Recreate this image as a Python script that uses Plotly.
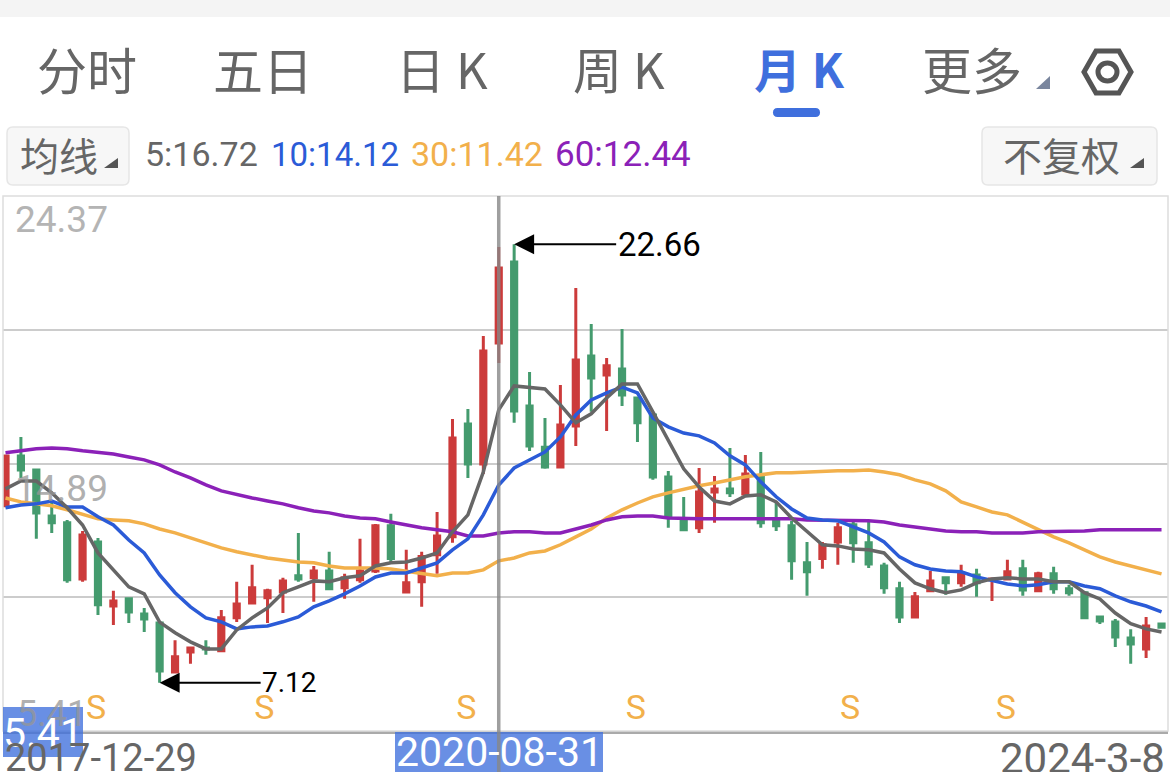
# monthly K-line screen: candles, moving averages and the app toolbar
import plotly.graph_objects as go

W, H = 1170, 772

# monthly candles, 2017-12 .. 2024-03
open_ = [13.39, 15.16, 14.66, 13.03, 12.79, 10.80, 12.11, 9.84, 10.10, 9.56,
         9.24, 7.50, 8.21, 8.35, 8.25, 9.42, 9.95, 10.13, 10.34, 10.91,
         10.84, 11.08, 10.49, 10.77, 11.08, 12.68, 10.34, 10.70, 11.66, 12.29,
         16.29, 14.87, 19.16, 22.03, 16.93, 15.47, 14.77, 16.22, 18.70, 18.03,
         18.24, 17.21, 16.61, 14.41, 12.86, 12.61, 13.88, 13.99, 13.81, 14.45,
         12.86, 12.68, 11.37, 11.52, 12.11, 12.72, 12.08, 11.26, 10.45, 9.45,
         10.38, 10.84, 10.66, 10.94, 10.77, 10.80, 11.16, 10.38, 10.98, 10.45,
         10.31, 9.45, 9.27, 8.71, 8.32, 9.20]
high = [15.19, 15.83, 14.66, 13.60, 12.89, 12.50, 12.25, 10.38, 10.10, 9.77,
        9.24, 8.63, 8.35, 8.63, 9.70, 10.70, 11.30, 10.45, 10.84, 12.43,
        11.26, 11.76, 10.98, 12.22, 12.75, 13.11, 11.83, 11.76, 13.17, 16.47,
        16.82, 19.41, 22.56, 22.66, 18.13, 16.50, 17.67, 21.11, 19.83, 18.63,
        19.66, 17.21, 16.61, 14.62, 13.70, 14.73, 14.45, 15.44, 15.19, 15.30,
        13.50, 12.86, 12.11, 12.11, 12.79, 12.86, 12.82, 11.37, 10.70, 10.34,
        11.08, 10.87, 11.30, 11.16, 10.80, 11.48, 11.48, 11.05, 11.23, 10.59,
        10.31, 9.45, 9.38, 9.02, 9.45, 9.20]
low = [13.39, 14.38, 12.22, 12.43, 10.66, 10.70, 9.52, 9.17, 9.24, 8.92,
       7.12, 7.50, 7.79, 8.11, 8.25, 9.27, 9.91, 9.24, 9.59, 10.70,
       9.99, 10.45, 10.10, 10.66, 11.01, 11.37, 10.34, 9.81, 10.98, 12.08,
       14.38, 14.52, 18.45, 16.33, 15.33, 14.70, 14.77, 15.51, 16.72, 16.04,
       16.93, 15.65, 14.31, 12.61, 12.54, 12.43, 12.79, 13.70, 13.81, 12.61,
       12.50, 10.77, 10.20, 11.16, 11.30, 11.37, 11.19, 10.27, 9.24, 9.42,
       10.34, 10.24, 10.52, 10.17, 10.02, 10.80, 10.20, 10.34, 10.27, 10.20,
       9.38, 9.20, 8.39, 7.79, 8.00, 9.06]
close = [15.16, 14.66, 13.14, 12.79, 10.77, 12.36, 9.88, 10.02, 9.63, 9.38,
         7.54, 8.04, 8.35, 8.32, 9.42, 9.91, 10.49, 10.38, 10.73, 10.80,
         11.08, 10.45, 10.84, 11.08, 12.68, 11.52, 10.66, 11.59, 12.32, 15.79,
         14.87, 18.88, 21.82, 16.75, 15.51, 14.77, 16.25, 18.56, 17.92, 18.35,
         17.32, 16.33, 14.41, 13.03, 12.54, 13.88, 13.99, 13.85, 14.52, 12.79,
         12.68, 11.44, 11.05, 12.01, 12.61, 12.08, 11.33, 10.49, 9.45, 10.17,
         10.73, 10.66, 10.98, 10.66, 10.80, 11.05, 10.41, 10.98, 10.45, 10.31,
         9.42, 9.31, 8.74, 8.49, 9.13, 9.09]

ma5 = [13.99, 14.27, 14.27, 13.85, 13.32, 12.71, 11.72, 11.12, 10.52, 10.27,
       9.27, 8.89, 8.57, 8.32, 8.32, 8.99, 9.42, 9.77, 10.31, 10.52,
       10.73, 10.70, 10.84, 10.91, 11.26, 11.37, 11.40, 11.54, 11.72, 12.47,
       13.07, 14.59, 16.79, 17.64, 17.57, 17.53, 16.97, 16.33, 16.65, 17.21,
       17.71, 17.71, 16.72, 15.73, 14.70, 14.06, 13.56, 13.46, 13.74, 13.78,
       13.53, 12.96, 12.50, 12.01, 11.97, 11.86, 11.83, 11.72, 11.15, 10.66,
       10.45, 10.31, 10.41, 10.66, 10.80, 10.84, 10.80, 10.80, 10.70, 10.70,
       10.31, 10.09, 9.59, 9.21, 9.03, 8.92]
ma10 = [13.32, 13.42, 13.46, 13.56, 13.35, 13.35, 13.00, 12.71, 12.18, 11.72,
        10.94, 10.31, 9.81, 9.42, 9.28, 9.03, 9.10, 9.13, 9.28, 9.45,
        9.81, 10.02, 10.27, 10.55, 10.87, 11.01, 11.01, 11.19, 11.37, 11.83,
        12.22, 13.07, 14.13, 14.73, 15.02, 15.30, 15.83, 16.61, 17.14, 17.39,
        17.60, 17.39, 16.50, 16.19, 15.97, 15.87, 15.62, 15.16, 14.84, 14.24,
        13.71, 13.28, 12.96, 12.89, 12.86, 12.64, 12.43, 12.11, 11.58, 11.30,
        11.15, 11.08, 11.05, 10.87, 10.73, 10.62, 10.55, 10.59, 10.70, 10.70,
        10.55, 10.45, 10.20, 9.99, 9.84, 9.63]
ma30 = [13.67, 13.53, 13.46, 13.39, 13.25, 13.10, 12.93, 12.89, 12.86, 12.75,
        12.57, 12.43, 12.25, 12.08, 11.90, 11.76, 11.65, 11.54, 11.47, 11.40,
        11.37, 11.26, 11.19, 11.19, 11.19, 11.15, 11.08, 11.01, 10.91, 11.01,
        11.01, 11.12, 11.44, 11.54, 11.72, 11.79, 12.01, 12.29, 12.57, 12.96,
        13.25, 13.49, 13.71, 13.85, 13.99, 14.10, 14.20, 14.31, 14.42, 14.49,
        14.56, 14.56, 14.59, 14.63, 14.63, 14.63, 14.66, 14.59, 14.49, 14.31,
        14.17, 13.92, 13.53, 13.35, 13.17, 13.07, 12.82, 12.57, 12.29, 12.08,
        11.83, 11.58, 11.40, 11.26, 11.15, 10.98]
ma60 = [15.27, 15.34, 15.41, 15.44, 15.41, 15.34, 15.27, 15.23, 15.12, 15.02,
        14.84, 14.59, 14.38, 14.13, 13.92, 13.78, 13.67, 13.56, 13.46, 13.32,
        13.21, 13.14, 13.03, 12.96, 12.93, 12.82, 12.71, 12.61, 12.54, 12.47,
        12.32, 12.32, 12.43, 12.47, 12.47, 12.43, 12.43, 12.57, 12.71, 12.89,
        13.00, 13.03, 13.03, 12.96, 12.93, 12.93, 12.93, 12.93, 12.96, 12.96,
        12.93, 12.93, 12.89, 12.89, 12.89, 12.89, 12.86, 12.82, 12.71, 12.64,
        12.57, 12.50, 12.47, 12.47, 12.43, 12.43, 12.43, 12.47, 12.47, 12.50,
        12.50, 12.54, 12.54, 12.54, 12.54, 12.54]

months = list(range(len(close)))

# "S" flags along the bottom of the chart
s_months = [5.87, 16.8, 29.9, 40.9, 54.8, 64.9]
s_price = [6.12] * len(s_months)

y_ticks = [5.41, 10.15, 14.89, 19.63, 24.37]
high_label, low_label = 22.66, 7.12
cross_month = 32

RED, GREEN = "#CC3B3B", "#449B6E"
GRAY, BLUE, ORANGE, PURPLE = "#666666", "#2B5BD7", "#F2B04B", "#8B21B8"
TAB_BLUE = "#3F6FDD"
CJK = "Noto Sans CJK SC"
NUM = "Roboto"


def px(x):
    return x / W


def py(y):
    return 1 - y / H


def poly(points, **kw):
    d = "M" + " L".join(f"{px(x):.5f},{py(y):.5f}" for x, y in points) + " Z"
    return dict(type="path", xref="paper", yref="paper", path=d, **kw)


def round_box(x0, y0, x1, y1, r, **kw):
    pts = [("M", x0 + r, y0), ("L", x1 - r, y0), ("Q", x1, y0, x1, y0 + r),
           ("L", x1, y1 - r), ("Q", x1, y1, x1 - r, y1), ("L", x0 + r, y1),
           ("Q", x0, y1, x0, y1 - r), ("L", x0, y0 + r), ("Q", x0, y0, x0 + r, y0)]
    d = ""
    for p in pts:
        coords = p[1:]
        d += p[0] + " ".join(f"{px(coords[i]):.5f},{py(coords[i + 1]):.5f}" for i in range(0, len(coords), 2)) + " "
    return dict(type="path", xref="paper", yref="paper", path=d + "Z", **kw)


def rect(x0, y0, x1, y1, **kw):
    return dict(type="rect", xref="paper", yref="paper", x0=px(x0), x1=px(x1), y0=py(y0), y1=py(y1), **kw)


def label(text, x, y, size, color, family=NUM, anchor="center"):
    return dict(text=text, xref="paper", yref="paper", x=px(x), y=py(y), xanchor=anchor, yanchor="middle",
                showarrow=False, font=dict(family=family, size=size, color=color))


fig = go.Figure()
fig.add_trace(go.Candlestick(
    x=months, open=open_, high=high, low=low, close=close,
    increasing=dict(line=dict(color=RED, width=3), fillcolor=RED),
    decreasing=dict(line=dict(color=GREEN, width=3), fillcolor=GREEN),
    whiskerwidth=0, hoverinfo="skip",
))
for vals, color in [(ma30, ORANGE), (ma60, PURPLE), (ma10, BLUE), (ma5, GRAY)]:
    fig.add_trace(go.Scatter(x=months, y=vals, mode="lines", line=dict(color=color, width=3.5), hoverinfo="skip"))
fig.add_trace(go.Scatter(x=s_months, y=s_price, mode="text", text=["S"] * len(s_months),
                         textfont=dict(family=NUM, size=34, color=ORANGE), hoverinfo="skip"))

shapes = [
    rect(0, 0, W, 17, fillcolor="#F4F4F4", line_width=0),
    round_box(7, 127, 129, 185, 6, fillcolor="#F7F7F7", line=dict(color="#E6E6E6", width=1.5)),
    round_box(982, 127, 1157, 185, 6, fillcolor="#F7F7F7", line=dict(color="#E6E6E6", width=1.5)),
    round_box(773, 108, 820, 117, 4.5, fillcolor=TAB_BLUE, line_width=0),
    poly([(1036, 89), (1050, 89), (1050, 76)], fillcolor="#7A869E", line_width=0),
    poly([(104, 168), (118, 168), (118, 158)], fillcolor="#555555", line_width=0),
    poly([(1130, 168), (1144, 168), (1144, 158)], fillcolor="#555555", line_width=0),
    poly([(1084, 72), (1096, 51), (1119, 51), (1131, 72), (1119, 93), (1096, 93)],
         line=dict(color="#555555", width=5)),
    dict(type="circle", xref="paper", yref="paper", x0=px(1098), x1=px(1117), y0=py(81), y1=py(63),
         line=dict(color="#555555", width=5)),
    rect(3, 196, 1168, 731, line=dict(color="#DDDDDD", width=1.5)),
    # highlighted readouts on the crosshair
    rect(3, 707, 83, 757, fillcolor="rgba(63,111,221,0.78)", line_width=0),
    rect(395, 732, 603, 772, fillcolor="rgba(63,111,221,0.78)", line_width=0),
    dict(type="line", xref="x", yref="paper", x0=cross_month, x1=cross_month, y0=py(196), y1=py(772),
         line=dict(color="rgba(135,135,135,0.8)", width=3.5)),
]

annotations = [
    label("分时", 87, 68, 50, GRAY, CJK),
    label("五日", 263, 68, 50, GRAY, CJK),
    label("日 K", 442, 68, 49, GRAY, CJK),
    label("周 K", 619, 68, 49, GRAY, CJK),
    label("<b>月 K</b>", 799, 68, 47, TAB_BLUE, CJK),
    label("更多", 972, 68, 50, GRAY, CJK),
    label("均线", 59, 154, 39, GRAY, CJK),
    label("不复权", 1061, 154, 39, GRAY, CJK),
    label("5:16.72", 143, 154, 34, GRAY, anchor="left"),
    label("10:14.12", 269, 154, 33, BLUE, anchor="left"),
    label("30:11.42", 409, 154, 34, ORANGE, anchor="left"),
    label("60:12.44", 553, 154, 35, PURPLE, anchor="left"),
    label("24.37", 13, 219, 37, "#B4B4B4", anchor="left"),
    label("14.89", 13, 488, 37, "rgba(150,150,150,0.75)", anchor="left"),
    label("5.41", 15, 714, 36, "rgba(150,150,150,0.75)", anchor="left"),
    label("5.41", 43, 733, 41, "#FFFFFF"),
    label("2017-12-29", 3, 758, 38, GRAY, anchor="left"),
    label("2020-08-31", 499, 752, 41, "#FFFFFF"),
    label("2024-3-8", 1167, 758, 42, GRAY, anchor="right"),
    dict(x=33, y=high_label, xref="x", yref="y", text=f"{high_label:.2f}", ax=145, ay=0, showarrow=True,
         arrowhead=2, arrowsize=2, arrowwidth=2, arrowcolor="#000000", font=dict(family=NUM, size=33, color="#000000")),
    dict(x=10, y=low_label, xref="x", yref="y", text=f"{low_label:.2f}", ax=130, ay=0, showarrow=True,
         arrowhead=2, arrowsize=2, arrowwidth=2, arrowcolor="#000000", font=dict(family=NUM, size=28, color="#000000")),
]

fig.update_layout(
    width=W, height=H, margin=dict(l=0, r=0, t=0, b=0, autoexpand=False),
    paper_bgcolor="#FFFFFF", plot_bgcolor="#FFFFFF", showlegend=False,
    boxgap=0.52, shapes=shapes, annotations=annotations,
    xaxis=dict(domain=[px(3), px(1168)], range=[-0.162, 75.42], rangeslider_visible=False,
               showgrid=False, zeroline=False, showticklabels=False, ticks="",
               showline=True, linecolor="#AAAAAA", linewidth=3),
    yaxis=dict(domain=[py(731), py(196)], range=[5.41, 24.37], tickvals=y_ticks, showticklabels=False,
               gridcolor="#CCCCCC", gridwidth=1.5, zeroline=False, ticks=""),
)

fig.write_html("out.html", config=dict(displayModeBar=False),
               post_script="document.body.style.margin='0';document.body.style.overflow='hidden';")
